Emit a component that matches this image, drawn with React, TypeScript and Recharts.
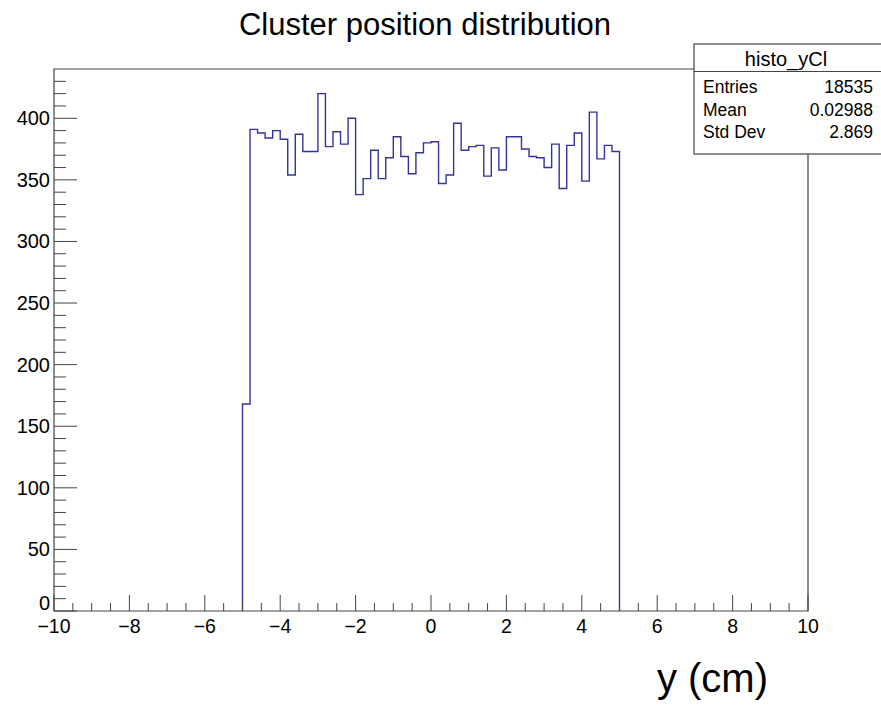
import React from 'react';
import { ComposedChart, Line, XAxis, YAxis, ReferenceArea } from 'recharts';

// Histogram bins (left edges, width 0.2 cm) and counts
const binLeftEdges = [
  -5.0, -4.8, -4.6, -4.4, -4.2, -4.0, -3.8, -3.6, -3.4, -3.2,
  -3.0, -2.8, -2.6, -2.4, -2.2, -2.0, -1.8, -1.6, -1.4, -1.2,
  -1.0, -0.8, -0.6, -0.4, -0.2, 0.0, 0.2, 0.4, 0.6, 0.8,
  1.0, 1.2, 1.4, 1.6, 1.8, 2.0, 2.2, 2.4, 2.6, 2.8,
  3.0, 3.2, 3.4, 3.6, 3.8, 4.0, 4.2, 4.4, 4.6, 4.8,
];
const binUpperEdge = 5.0;
const binCounts = [
  168, 391, 388, 384, 390, 383, 354, 387, 373, 373,
  420, 377, 389, 379, 400, 338, 351, 374, 351, 368,
  385, 369, 355, 372, 380, 381, 347, 354, 396, 374,
  377, 378, 353, 376, 358, 385, 385, 375, 369, 368,
  360, 379, 343, 378, 388, 349, 405, 367, 378, 373,
];
const xDomain: [number, number] = [-10, 10];
const yDomain: [number, number] = [0, 440];

const xMajorTicks = [-10, -8, -6, -4, -2, 0, 2, 4, 6, 8, 10];
const xMinorTicks = [
  -10, -9.5, -9, -8.5, -8, -7.5, -7, -6.5, -6, -5.5, -5, -4.5, -4, -3.5, -3, -2.5, -2, -1.5, -1, -0.5,
  0, 0.5, 1, 1.5, 2, 2.5, 3, 3.5, 4, 4.5, 5, 5.5, 6, 6.5, 7, 7.5, 8, 8.5, 9, 9.5, 10,
];
const yMajorTicks = [0, 50, 100, 150, 200, 250, 300, 350, 400];
const yMinorTicks = [
  0, 10, 20, 30, 40, 50, 60, 70, 80, 90, 100, 110, 120, 130, 140, 150, 160, 170, 180, 190,
  200, 210, 220, 230, 240, 250, 260, 270, 280, 290, 300, 310, 320, 330, 340, 350, 360, 370,
  380, 390, 400, 410, 420, 430,
];

const title = 'Cluster position distribution';
const xLabel = 'y (cm)';
const statsTitle = 'histo_yCl';
const statsRows = [
  ['Entries', '18535'],
  ['Mean', '0.02988'],
  ['Std Dev', '2.869'],
];

const histPoints: { x: number; y: number }[] = [{ x: binLeftEdges[0], y: 0 }];
binLeftEdges.forEach((e, i) => histPoints.push({ x: e, y: binCounts[i] }));
histPoints.push({ x: binUpperEdge, y: 0 });

const FONT = '"Liberation Sans", Arial, Helvetica, sans-serif';
const AXIS = '#444';

const fmt = (v: number) => (v < 0 ? '\u2212' + Math.abs(v) : String(v));

const XTick = (props: any) => {
  const { x, y, payload } = props;
  const v = payload.value;
  const major = xMajorTicks.includes(v);
  return (
    <g>
      <line x1={x} y1={y} x2={x} y2={y - (major ? 16 : 8)} stroke={AXIS} strokeWidth={1} />
      {major && (
        <text x={x} y={y + 22} textAnchor="middle" fontSize={19.5} fontFamily={FONT} fill="#000">
          {fmt(v)}
        </text>
      )}
    </g>
  );
};

const YTick = (props: any) => {
  const { x, y, payload } = props;
  const v = payload.value;
  const major = yMajorTicks.includes(v);
  return (
    <g>
      <line x1={x} y1={y} x2={x + (major ? 23 : 12)} y2={y} stroke={AXIS} strokeWidth={1} />
      {major && (
        <text x={x - 4} y={y + 7 - (v === 0 ? 8 : 0)} textAnchor="end" fontSize={20} fontFamily={FONT} fill="#000">
          {fmt(v)}
        </text>
      )}
    </g>
  );
};

export default function App() {
  return (
    <div style={{ position: 'absolute', left: 0, top: 0, width: 881, height: 708, background: '#fff' }}>
      <ComposedChart
        width={881}
        height={708}
        data={histPoints}
        margin={{ top: 69, right: 73, bottom: 67, left: 0 }}
      >
        <XAxis
          dataKey="x"
          type="number"
          domain={xDomain}
          ticks={xMinorTicks}
          interval={0}
          allowDataOverflow
          axisLine={false}
          tickLine={false}
          tickSize={0}
          tickMargin={0}
          height={30}
          tick={<XTick />}
        />
        <YAxis
          type="number"
          domain={yDomain}
          ticks={yMinorTicks}
          interval={0}
          allowDataOverflow
          axisLine={false}
          tickLine={false}
          tickSize={0}
          tickMargin={0}
          width={54}
          tick={<YTick />}
        />
        <ReferenceArea
          x1={xDomain[0]}
          x2={xDomain[1]}
          y1={yDomain[0]}
          y2={yDomain[1]}
          fill="none"
          fillOpacity={0}
          stroke={AXIS}
          strokeWidth={1.2}
          strokeOpacity={1}
        />
        <Line
          dataKey="y"
          type="stepAfter"
          stroke="#333399"
          strokeWidth={1.4}
          dot={false}
          activeDot={false}
          isAnimationActive={false}
        />
      </ComposedChart>
      <svg
        width={881}
        height={708}
        style={{ position: 'absolute', left: 0, top: 0, pointerEvents: 'none' }}
      >
        <text x={425} y={35} textAnchor="middle" fontSize={31} fontFamily={FONT} fill="#000">
          {title}
        </text>
        <text x={768} y={692} textAnchor="end" fontSize={40} fontFamily={FONT} fill="#000">
          {xLabel}
        </text>
        <rect x={694} y={44} width={190} height={110} fill="#fff" stroke={AXIS} strokeWidth={1.2} />
        <line x1={694} y1={71.5} x2={881} y2={71.5} stroke={AXIS} strokeWidth={1.2} />
        <text x={786} y={66} textAnchor="middle" fontSize={20} fontFamily={FONT} fill="#000">
          {statsTitle}
        </text>
        {statsRows.map((r, i) => (
          <g key={r[0]}>
            <text x={703} y={93 + i * 22.5} fontSize={17.5} fontFamily={FONT} fill="#000">
              {r[0]}
            </text>
            <text x={873} y={93 + i * 22.5} textAnchor="end" fontSize={17.5} fontFamily={FONT} fill="#000">
              {r[1]}
            </text>
          </g>
        ))}
      </svg>
    </div>
  );
}
